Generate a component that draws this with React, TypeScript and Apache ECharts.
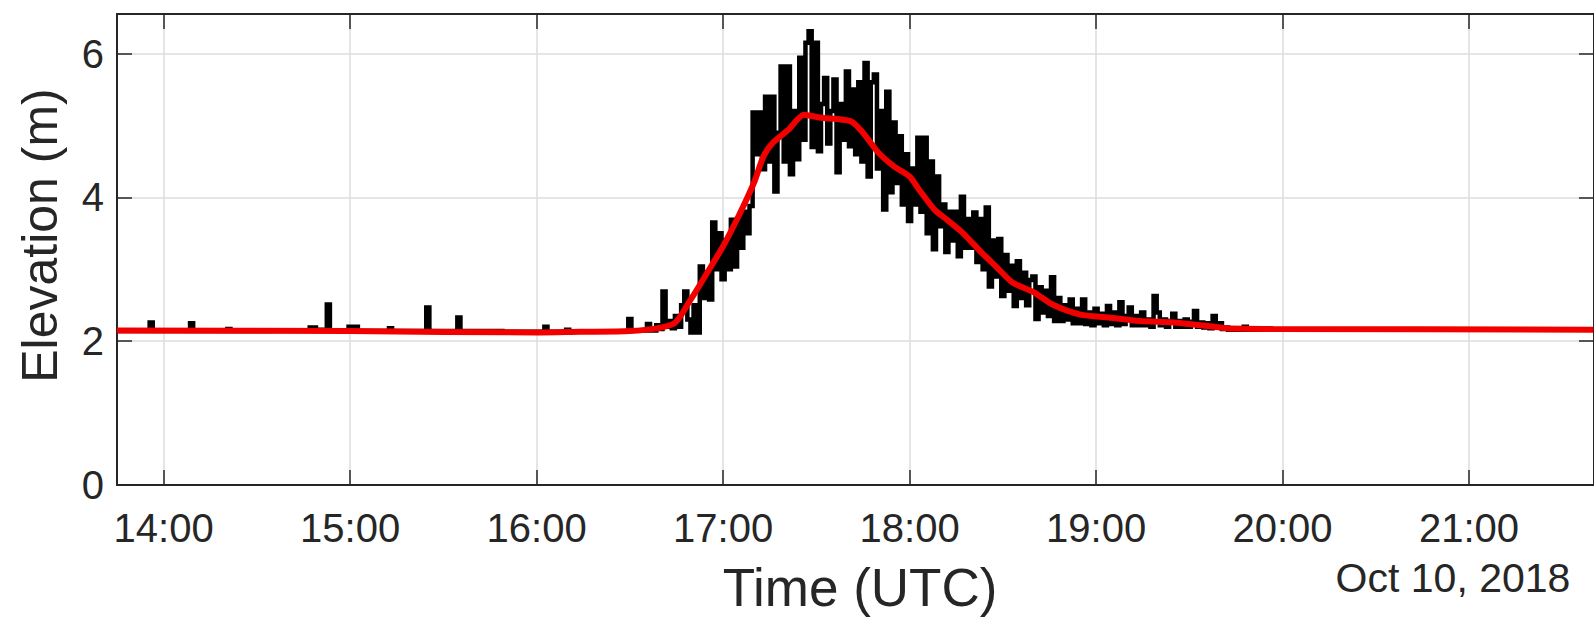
import React, { useEffect, useRef } from "react";
import * as echarts from "echarts";

// Axis extents (hours of day, UTC) and tick values
const xRange = [13.75, 21.67];
const hourTicks = [14, 15, 16, 17, 18, 19, 20, 21];
const yRange = [0, 6.55];
const elevationTicks = [0, 2, 4, 6];

// Smoothed elevation (red)
const redTimes = [
  "13:45", "15:00", "16:00", "16:14", "16:30", "16:44", "16:49", "16:55", "17:00", "17:05",
  "17:10", "17:13", "17:16", "17:21", "17:26", "17:31", "17:41", "17:45", "17:50", "17:55",
  "18:00", "18:03", "18:08", "18:12", "18:17", "18:23", "18:28", "18:33", "18:40", "18:46",
  "18:55", "19:04", "19:14", "19:25", "19:36", "19:42", "19:57", "21:40",
];
const redValues = [
  2.15, 2.14, 2.12, 2.13, 2.14, 2.24, 2.54, 2.96, 3.32, 3.74,
  4.21, 4.57, 4.76, 4.94, 5.15, 5.11, 5.06, 4.9, 4.62, 4.43,
  4.29, 4.11, 3.83, 3.69, 3.51, 3.24, 3.03, 2.82, 2.68, 2.51,
  2.37, 2.33, 2.28, 2.26, 2.21, 2.18, 2.17, 2.16,
];

// Raw elevation (black): quiet period before the event
const blackBeforeTimes = [
  "13:45", "13:55", "13:56", "13:57", "14:08", "14:09", "14:10", "14:20", "14:21", "14:22",
  "14:46", "14:48", "14:50", "14:52", "14:53", "14:54", "14:59", "15:00", "15:01", "15:02",
  "15:03", "15:12", "15:13", "15:14", "15:24", "15:25", "15:26", "15:34", "15:35", "15:36",
  "16:02", "16:03", "16:04", "16:09", "16:10", "16:11", "16:29", "16:30", "16:31", "16:35",
  "16:36", "16:37",
];
const blackBeforeValues = [
  2.14, 2.14, 2.26, 2.14, 2.14, 2.25, 2.14, 2.14, 2.17, 2.14,
  2.15, 2.19, 2.16, 2.15, 2.51, 2.15, 2.14, 2.2, 2.15, 2.2,
  2.14, 2.14, 2.18, 2.14, 2.14, 2.47, 2.14, 2.14, 2.33, 2.14,
  2.13, 2.2, 2.13, 2.13, 2.16, 2.13, 2.13, 2.31, 2.15, 2.15,
  2.24, 2.15,
];

// Raw elevation (black): one value per minute during the event, from 16:38
const blackCoreStart = "16:38";
const blackCoreValues = [
  2.15, 2.22, 2.17, 2.69, 2.2, 2.28, 2.18, 2.35, 2.2, 2.5, // 16:38-16:47
  2.69, 2.3, 2.12, 2.5, 2.12, 3.04, 2.6, 2.95, 2.58, 3.65, // 16:48-16:57
  3.0, 3.5, 2.86, 3.4, 3.0, 3.69, 3.04, 3.7, 3.3, 3.8, // 16:58-17:07
  3.5, 3.88, 5.18, 4.6, 5.18, 4.39, 5.4, 4.5, 5.4, 4.08, // 17:08-17:17
  4.9, 5.82, 4.5, 5.82, 4.32, 5.2, 4.53, 5.94, 4.8, 6.15, // 17:18-17:27
  6.31, 4.7, 6.15, 4.64, 5.3, 5.66, 4.75, 5.2, 5.64, 4.35, // 17:28-17:37
  5.3, 4.8, 5.75, 4.71, 5.5, 4.6, 5.6, 4.5, 5.87, 4.29, // 17:38-17:47
  5.6, 5.71, 4.4, 5.2, 3.83, 5.47, 4.07, 5.04, 4.2, 4.85, // 17:48-17:57
  3.9, 4.6, 3.67, 4.4, 3.9, 4.83, 3.8, 4.83, 3.5, 4.5, // 17:58-18:07
  3.28, 4.29, 3.6, 3.9, 3.24, 3.8, 3.4, 3.8, 3.18, 4.01, // 18:08-18:17
  3.3, 3.7, 3.3, 3.79, 3.1, 3.7, 3.0, 3.86, 2.76, 3.4, // 18:18-18:27
  2.9, 3.42, 2.63, 3.2, 2.7, 3.05, 2.49, 3.11, 2.6, 2.95, // 18:28-18:37
  2.5, 2.85, 2.9, 2.31, 2.75, 2.4, 2.7, 2.35, 2.89, 2.28, // 18:38-18:47
  2.6, 2.28, 2.5, 2.3, 2.58, 2.25, 2.45, 2.25, 2.58, 2.24, // 18:48-18:57
  2.4, 2.22, 2.45, 2.25, 2.38, 2.22, 2.49, 2.24, 2.4, 2.22, // 18:58-19:07
  2.54, 2.24, 2.35, 2.47, 2.22, 2.35, 2.22, 2.4, 2.22, 2.3, // 19:08-19:17
  2.2, 2.63, 2.4, 2.22, 2.3, 2.2, 2.28, 2.38, 2.2, 2.28, // 19:18-19:27
  2.2, 2.3, 2.2, 2.27, 2.42, 2.2, 2.26, 2.19, 2.25, 2.18, // 19:28-19:37
  2.35, 2.19, 2.25, 2.17, 2.19, 2.16, 2.18, 2.16, 2.17, 2.16, // 19:38-19:47
  2.2, 2.16, 2.17, // 19:48-19:50
];

// Raw elevation (black): quiet period after the event
const blackAfterTimes = ["19:52", "21:40"];
const blackAfterValues = [2.16, 2.16];

const toHours = (s: string) => {
  const [h, m] = s.split(":").map(Number);
  return h + m / 60;
};

const FONT = "'Liberation Sans', Arial, Helvetica, sans-serif";
const AXIS_COLOR = "#262626";
const GRID_COLOR = "#dcdcdc";

export default function App() {
  const ref = useRef<HTMLDivElement>(null);

  useEffect(() => {
    if (!ref.current) return;
    const chart = echarts.init(ref.current, null, { renderer: "svg" });

    const coreStart = toHours(blackCoreStart);
    const blackData = [
      ...blackBeforeTimes.map((t, i) => [toHours(t), blackBeforeValues[i]]),
      ...blackCoreValues.map((v, i) => [coreStart + i / 60, v]),
      ...blackAfterTimes.map((t, i) => [toHours(t), blackAfterValues[i]]),
    ];
    const redData = redTimes.map((t, i) => [toHours(t), redValues[i]]);

    const axisLine = { show: true, onZero: false, lineStyle: { color: AXIS_COLOR, width: 2 } };
    const tickStyle = { color: AXIS_COLOR, width: 1.5 };

    chart.setOption({
      animation: false,
      backgroundColor: "#ffffff",
      grid: { left: 117, top: 14, width: 1478, height: 471, containLabel: false },
      xAxis: [
        {
          type: "value",
          min: xRange[0],
          max: xRange[1],
          position: "bottom",
          axisLine,
          axisTick: { show: true, inside: true, length: 15, customValues: hourTicks, lineStyle: tickStyle },
          axisLabel: {
            customValues: hourTicks,
            formatter: (v: number) => `${v}:00`,
            fontSize: 40,
            fontFamily: FONT,
            color: AXIS_COLOR,
            margin: 23,
          },
          splitLine: { show: true, lineStyle: { color: GRID_COLOR, width: 1.5 } },
        },
        {
          type: "value",
          min: xRange[0],
          max: xRange[1],
          position: "top",
          axisLine,
          axisTick: { show: true, inside: true, length: 15, customValues: hourTicks, lineStyle: tickStyle },
          axisLabel: { show: false },
          splitLine: { show: false },
        },
      ],
      yAxis: [
        {
          type: "value",
          min: yRange[0],
          max: yRange[1],
          position: "left",
          axisLine,
          axisTick: { show: true, inside: true, length: 15, customValues: elevationTicks, lineStyle: tickStyle },
          axisLabel: {
            customValues: elevationTicks,
            fontSize: 40,
            fontFamily: FONT,
            color: AXIS_COLOR,
            margin: 13,
          },
          splitLine: { show: true, lineStyle: { color: GRID_COLOR, width: 1.5 } },
        },
        {
          type: "value",
          min: yRange[0],
          max: yRange[1],
          position: "right",
          axisLine,
          axisTick: { show: true, inside: true, length: 15, customValues: elevationTicks, lineStyle: tickStyle },
          axisLabel: { show: false },
          splitLine: { show: false },
        },
      ],
      series: [
        {
          type: "line",
          data: blackData,
          xAxisIndex: 0,
          yAxisIndex: 0,
          showSymbol: false,
          symbol: "none",
          step: "middle",
          lineStyle: { color: "#000000", width: 4.5, join: "miter" },
          z: 3,
          clip: true,
        },
        {
          type: "line",
          data: redData,
          xAxisIndex: 0,
          yAxisIndex: 0,
          showSymbol: false,
          symbol: "none",
          smooth: 0.25,
          lineStyle: { color: "#f20000", width: 6 },
          z: 4,
          clip: true,
        },
      ],
      graphic: [
        {
          type: "text",
          x: 40,
          y: 235.5,
          rotation: Math.PI / 2,
          style: {
            text: "Elevation (m)",
            fontSize: 50,
            fontFamily: FONT,
            fill: AXIS_COLOR,
            align: "center",
            verticalAlign: "middle",
          },
        },
        {
          type: "text",
          x: 860,
          y: 587,
          style: {
            text: "Time (UTC)",
            fontSize: 53,
            fontFamily: FONT,
            fill: AXIS_COLOR,
            align: "center",
            verticalAlign: "middle",
          },
        },
        {
          type: "text",
          x: 1453,
          y: 578,
          style: {
            text: "Oct 10, 2018",
            fontSize: 41,
            fontFamily: FONT,
            fill: AXIS_COLOR,
            align: "center",
            verticalAlign: "middle",
          },
        },
      ],
    });

    return () => chart.dispose();
  }, []);

  return (
    <div
      ref={ref}
      style={{ position: "absolute", left: 0, top: 0, width: 1594, height: 623, background: "#ffffff" }}
    />
  );
}
